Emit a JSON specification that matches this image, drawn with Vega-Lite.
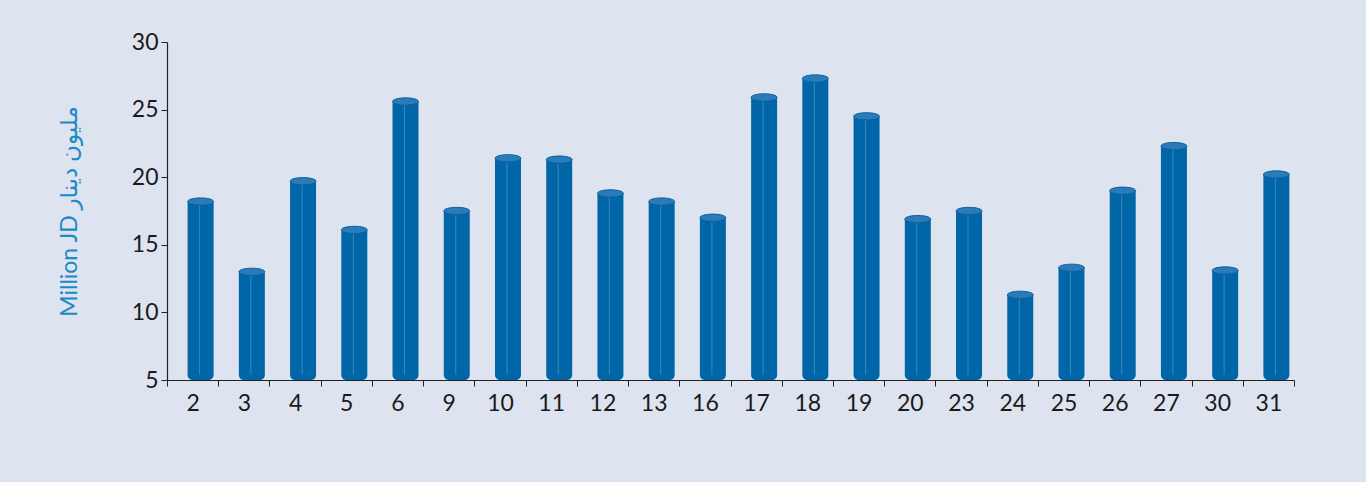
{
  "$schema": "https://vega.github.io/schema/vega-lite/v6.json",
  "autosize": {"type": "none"},
  "width": 1127,
  "height": 338,
  "padding": {"left": 167, "top": 42, "right": 72, "bottom": 102},
  "background": "#dee4ef",
  "config": {
    "view": {"stroke": null},
    "axis": {"grid": false, "domainColor": "#222222", "tickColor": "#222222", "labelFont": "Lato", "labelColor": "#1a1a1a", "labelFontSize": 23, "titleFont": "Lato, DejaVu Sans"}
  },
  "data": {
    "values": [
      {"day": "2", "value": 18.2},
      {"day": "3", "value": 13.0},
      {"day": "4", "value": 19.7},
      {"day": "5", "value": 16.1},
      {"day": "6", "value": 25.6},
      {"day": "9", "value": 17.5},
      {"day": "10", "value": 21.4},
      {"day": "11", "value": 21.3},
      {"day": "12", "value": 18.8},
      {"day": "13", "value": 18.2},
      {"day": "16", "value": 17.0},
      {"day": "17", "value": 25.9},
      {"day": "18", "value": 27.3},
      {"day": "19", "value": 24.5},
      {"day": "20", "value": 16.9},
      {"day": "23", "value": 17.5},
      {"day": "24", "value": 11.3},
      {"day": "25", "value": 13.3},
      {"day": "26", "value": 19.0},
      {"day": "27", "value": 22.3},
      {"day": "30", "value": 13.1},
      {"day": "31", "value": 20.2}
    ]
  },
  "encoding": {
    "x": {
      "field": "day", "type": "ordinal", "sort": null,
      "scale": {"paddingInner": 0, "paddingOuter": 0},
      "axis": {"title": null, "labelAngle": 0, "tickBand": "extent", "tickSize": 6, "labelPadding": 6, "domainWidth": 1.2}
    }
  },
  "layer": [
    {
      "mark": {"type": "bar", "color": "#0066a8", "width": 26, "xOffset": 8, "cornerRadiusBottomLeft": 5, "cornerRadiusBottomRight": 5},
      "encoding": {
        "y": {
          "field": "value", "type": "quantitative",
          "scale": {"domain": [5, 30], "zero": false, "nice": false},
          "axis": {"title": "Million JD مليون دينار", "titleColor": "#1b8ac6", "titleFontSize": 23, "titleFontWeight": "normal", "titlePadding": 50, "values": [5, 10, 15, 20, 25, 30], "tickSize": 6, "labelPadding": 3, "domainWidth": 1.2}
        },
        "y2": {"datum": 5}
      }
    },
    {
      "mark": {"type": "rule", "color": "#4a90c6", "strokeWidth": 1, "opacity": 0.8, "xOffset": 7},
      "encoding": {"y": {"field": "value", "type": "quantitative"}, "y2": {"datum": 5.4}}
    },
    {
      "mark": {"type": "point", "filled": true, "shape": "M-1,0A1,0.28,0,1,1,1,0A1,0.28,0,1,1,-1,0Z", "size": 676, "xOffset": 8, "color": "#2a7bb8", "stroke": "#0b62a0", "strokeWidth": 1, "opacity": 1},
      "encoding": {"y": {"field": "value", "type": "quantitative"}}
    }
  ]
}
